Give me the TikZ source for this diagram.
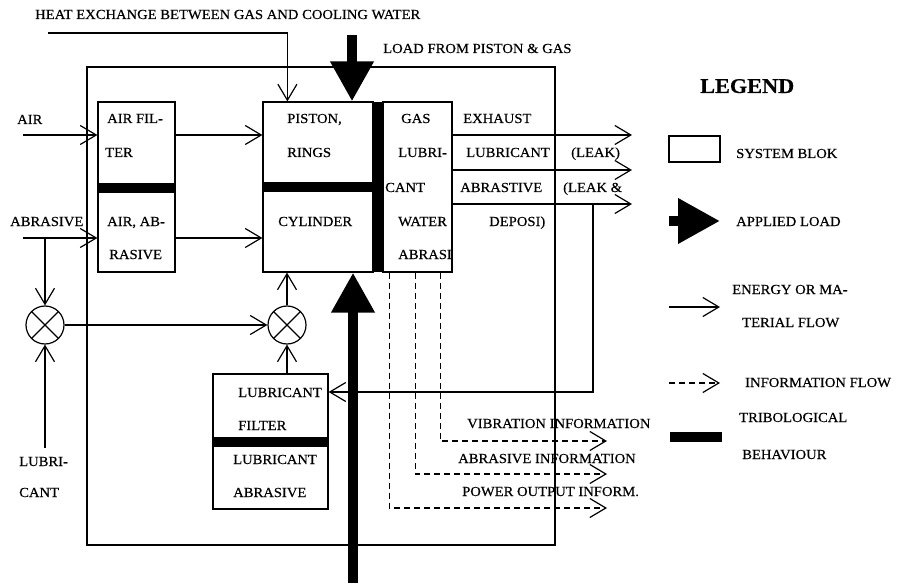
\documentclass[tikz,border=0pt]{standalone}
\usepackage{fontspec}
\setmainfont{Liberation Serif}[FakeStretch=1.06,FakeBold=0.4]
\usetikzlibrary{arrows.meta,calc}
\begin{document}
\begin{tikzpicture}[x=1pt,y=-1pt,
  lbl/.style={anchor=base west, inner sep=0pt, font=\fontsize{13.8}{16}\selectfont},
  blk/.style={draw, line width=1.2pt, inner sep=0pt},
  tribo/.style={fill=black, inner sep=0pt, draw=none},
  flow/.style={line width=1.2pt, -{Straight Barb[length=16pt,width=19pt,line width=1.2pt]}},
  info/.style={flow, dash pattern=on 6pt off 4pt},
  load/.style={line width=10pt, -{Triangle[length=40pt,width=41pt]}},
  mix/.style={circle, draw, line width=1.2pt, minimum size=38pt, inner sep=0pt,
    path picture={\draw[line width=1.2pt] (path picture bounding box.north west) -- (path picture bounding box.south east)
      (path picture bounding box.north east) -- (path picture bounding box.south west);}},
]
\useasboundingbox (0,0) rectangle (901,585);

% system boundary
\node[blk, minimum width=468pt, minimum height=478pt] (sys) at (321,306) {};

% blocks
\node[blk, minimum width=77pt, minimum height=170pt] (air) at (136.5,187) {};
\node[tribo, minimum width=77pt, minimum height=10pt] (airbar) at (136.5,188) {};
\node[blk, minimum width=110pt, minimum height=170pt] (piston) at (318,187) {};
\node[tribo, minimum width=110pt, minimum height=10pt] (pistbar) at (318,187) {};
\node[tribo, minimum width=10pt, minimum height=170pt] (vbar) at (378,187) {};
\node[blk, minimum width=69pt, minimum height=170pt] (gas) at (417.5,187) {};
\node[blk, minimum width=115pt, minimum height=135pt] (lub) at (270.5,441.5) {};
\node[tribo, minimum width=115pt, minimum height=10pt] (lubbar) at (270.5,442) {};

% mixers
\node[mix] (mixL) at (45,325) {};
\node[mix] (mixR) at (287,325) {};

% texts
\node[lbl] (theat) at (35,19) {HEAT EXCHANGE BETWEEN GAS AND COOLING WATER};
\node[lbl] (tload) at (383,53) {LOAD FROM PISTON \& GAS};
\node[lbl] (tair) at (17,124) {AIR};
\node[lbl] (tabr) at (10,226) {ABRASIVE};
\node[lbl] (ta1) at (107,123) {AIR FIL-};
\node[lbl] (ta2) at (105,157) {TER};
\node[lbl] (ta3) at (107,226) {AIR, AB-};
\node[lbl] (ta4) at (109,259) {RASIVE};
\node[lbl] (tp1) at (287,123) {PISTON,};
\node[lbl] (tp2) at (287,157) {RINGS};
\node[lbl] (tp3) at (278,226) {CYLINDER};
\node[lbl] (tg1) at (401,123) {GAS};
\node[lbl] (tg2) at (398,157) {LUBRI-};
\node[lbl] (tg3) at (385,192) {CANT};
\node[lbl] (tg4) at (398,226) {WATER};
\node[lbl] (tg5) at (398,259) {ABRASI};
\node[lbl] (to1) at (463,123) {EXHAUST};
\node[lbl] (to2) at (466,157) {LUBRICANT};
\node[lbl] (to3) at (571,157) {(LEAK)};
\node[lbl] (to4) at (460,192) {ABRASTIVE};
\node[lbl] (to5) at (563,192) {(LEAK \&};
\node[lbl] (to6) at (489,226) {DEPOSI)};
\node[lbl] (tl1) at (238,397) {LUBRICANT};
\node[lbl] (tl2) at (238,430) {FILTER};
\node[lbl] (tl3) at (233,464) {LUBRICANT};
\node[lbl] (tl4) at (233,497) {ABRASIVE};
\node[lbl] (tlb1) at (19,466) {LUBRI-};
\node[lbl] (tlb2) at (19,497) {CANT};
\node[lbl] (ti1) at (467,428) {VIBRATION INFORMATION};
\node[lbl] (ti2) at (458,463) {ABRASIVE INFORMATION};
\node[lbl] (ti3) at (462,496) {POWER OUTPUT INFORM.};

% connectors
\coordinate (heat) at (48,33);
\draw[flow] (heat) -| ([xshift=25pt]piston.north west);
\coordinate (ltop) at (352,35);
\draw[load] (ltop) -- (ltop |- piston.north);
\coordinate (lbot) at (353,583);
\draw[load] (lbot) -- (lbot |- piston.south);

\coordinate (airin) at (23,135);
\coordinate (abrin) at (23,238);
\draw[flow] (airin) -- (airin -| air.west);
\draw[flow] (abrin) -- (abrin -| air.west);
\draw[flow] (air.east |- airin) -- (piston.west |- airin);
\draw[flow] (air.east |- abrin) -- (piston.west |- abrin);
\draw[flow] (abrin -| mixL) -- (mixL.north);
\coordinate (lubin) at (45,448);
\draw[flow] (lubin) -- (mixL.south);
\draw[flow] (mixL.east) -- (mixR.west);
\draw[flow] (mixR.north) -- (mixR.north |- piston.south);
\draw[flow] (mixR.south |- lub.north) -- (mixR.south);

\coordinate (o1) at (632,135);
\coordinate (o2) at (632,170);
\coordinate (o3) at (632,204);
\draw[flow] (gas.east |- o1) -- (o1);
\draw[flow] (gas.east |- o2) -- (o2);
\draw[flow] (gas.east |- o3) -- (o3);
\coordinate (r1) at (593,204);
\coordinate (r2) at (593,392);
\draw[flow] (r1) -- (r2) -- (lub.east |- r2);

\coordinate (i1) at (607,441);
\coordinate (i2) at (607,474);
\coordinate (i3) at (607,508);
\draw[info] ([xshift=58pt]gas.south west) |- (i1);
\draw[info] ([xshift=33pt]gas.south west) |- (i2);
\draw[info] ([xshift=7pt]gas.south west) |- (i3);

% legend
\node[lbl, font=\fontsize{21}{24}\selectfont\bfseries] (tleg) at (700,93) {LEGEND};
\node[blk, minimum width=51pt, minimum height=26pt] (legbox) at (694.5,149) {};
\node[lbl] (lg1) at (736,158) {SYSTEM BLOK};
\coordinate (la1) at (669,221);
\coordinate (la2) at (720,221);
\draw[line width=10pt, -{Triangle[length=42pt,width=43pt]}] (la1) -- (la2);
\node[lbl] (lg2) at (736,226) {APPLIED LOAD};
\coordinate (lf1) at (669,307);
\coordinate (lf2) at (720,307);
\draw[flow] (lf1) -- (lf2);
\node[lbl] (lg3) at (732,294) {ENERGY OR MA-};
\node[lbl] (lg4) at (742,327) {TERIAL FLOW};
\coordinate (li1) at (669,383);
\coordinate (li2) at (720,383);
\draw[info] (li1) -- (li2);
\node[lbl] (lg5) at (745,387) {INFORMATION FLOW};
\node[tribo, minimum width=52pt, minimum height=10pt] (legbar) at (696,437) {};
\node[lbl] (lg6) at (739,422) {TRIBOLOGICAL};
\node[lbl] (lg7) at (742,459) {BEHAVIOUR};
\end{tikzpicture}
\end{document}
